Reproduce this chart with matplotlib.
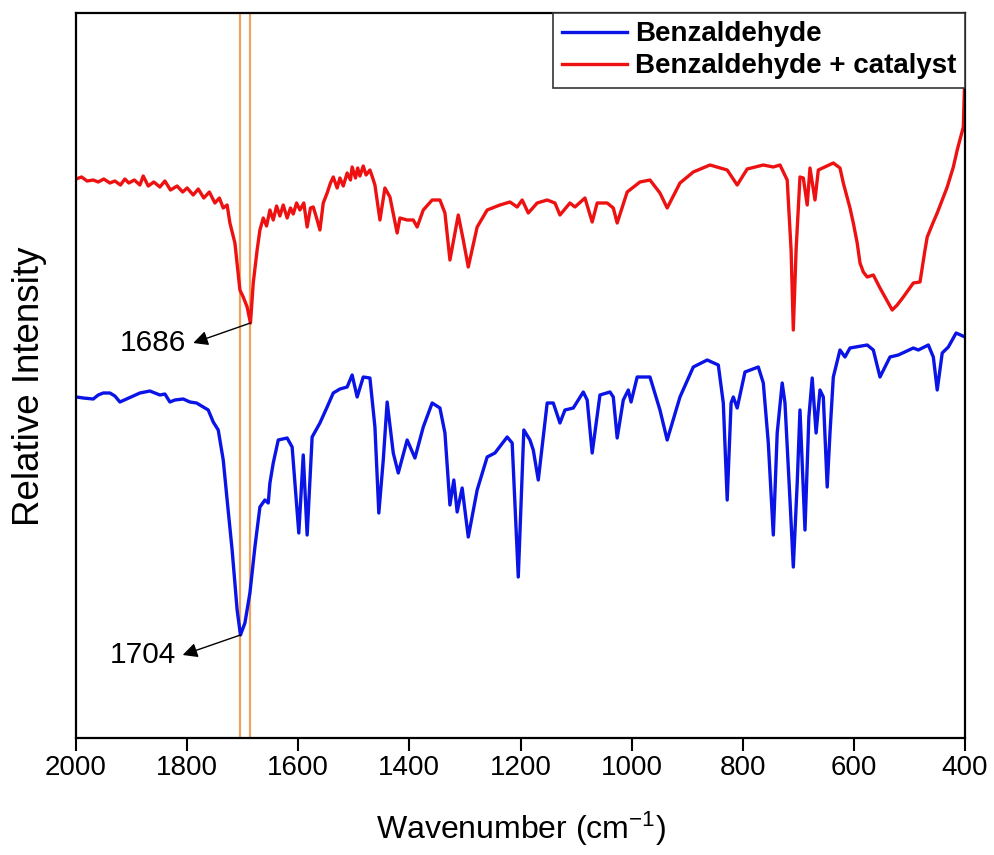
import matplotlib
matplotlib.use("Agg")
import matplotlib.pyplot as plt

# FTIR spectra (arbitrary intensity units, offset for display)
wn_red = [2000, 1990, 1980, 1969, 1960, 1950, 1939, 1930, 1920, 1912, 1905, 1895, 1885,
          1879, 1870, 1860, 1849, 1840, 1830, 1818, 1808, 1800, 1789, 1780, 1770, 1760,
          1750, 1742, 1735, 1728, 1723, 1714, 1705, 1699, 1692, 1686, 1681, 1674, 1669,
          1663, 1657, 1651, 1645, 1639, 1633, 1627, 1620, 1614, 1609, 1603, 1597, 1590,
          1584, 1578, 1573, 1567, 1561, 1555, 1548, 1542, 1537, 1530, 1525, 1519, 1512,
          1506, 1503, 1497, 1493, 1489, 1483, 1478, 1471, 1466, 1462, 1453, 1444, 1435,
          1422, 1417, 1404, 1393, 1386, 1375, 1359, 1345, 1336, 1327, 1312, 1303, 1294,
          1278, 1260, 1237, 1219, 1206, 1197, 1186, 1170, 1152, 1138, 1129, 1111, 1102,
          1084, 1071, 1062, 1044, 1033, 1026, 1008, 985, 967, 949, 936, 913, 889, 859,
          828, 810, 792, 763, 745, 733, 720, 713, 709, 704, 697, 691, 684, 679, 670, 664,
          637, 625, 619, 607, 601, 594, 589, 583, 576, 565, 553, 544, 531, 522, 511, 493,
          481, 472, 468, 457, 450, 432, 421, 414, 403, 401, 400]
int_red = [559, 561, 557, 558, 556, 559, 555, 557, 553, 559, 555, 558, 553,
           562, 552, 556, 551, 557, 548, 552, 546, 550, 543, 549, 540, 546,
           535, 540, 530, 533, 515, 495, 448, 441, 431, 415, 455, 488, 508,
           520, 512, 528, 518, 532, 522, 533, 520, 530, 524, 535, 528, 535,
           511, 530, 531, 520, 508, 535, 545, 555, 561, 550, 560, 552, 565,
           558, 571, 560, 570, 562, 572, 563, 568, 560, 553, 518, 550, 541,
           505, 520, 518, 518, 511, 528, 538, 538, 525, 478, 523, 498, 471,
           511, 528, 533, 536, 531, 538, 525, 535, 538, 535, 523, 535, 531,
           540, 516, 535, 535, 530, 515, 546, 556, 558, 545, 530, 555, 566, 573,
           568, 553, 569, 573, 571, 573, 558, 488, 408, 488, 561, 560, 533, 570, 538, 568,
           575, 570, 555, 530, 515, 495, 475, 466, 461, 463, 450, 441, 428, 433, 441, 455,
           456, 488, 501, 516, 525, 551, 571, 588, 611, 650, 715]

wn_blue = [1999, 1987, 1969, 1960, 1951, 1939, 1930, 1921, 1909, 1897, 1885, 1876, 1867,
           1858, 1849, 1840, 1831, 1822, 1807, 1795, 1783, 1771, 1762, 1753, 1744, 1735,
           1728, 1719, 1710, 1704, 1696, 1687, 1678, 1669, 1660, 1654, 1651, 1645, 1636,
           1620, 1611, 1599, 1591, 1584, 1575, 1561, 1548, 1537, 1525, 1512, 1503, 1494,
           1483, 1471, 1462, 1455, 1447, 1440, 1429, 1420, 1404, 1390, 1375, 1359, 1345,
           1336, 1327, 1320, 1314, 1305, 1294, 1278, 1260, 1246, 1224, 1215, 1204, 1194,
           1183, 1177, 1168, 1152, 1141, 1129, 1120, 1105, 1087, 1080, 1071, 1057, 1039,
           1033, 1026, 1015, 1006, 1001, 990, 967, 949, 936, 913, 889, 864, 844, 835, 828,
           821, 817, 810, 796, 772, 763, 754, 745, 738, 729, 724, 715, 709, 702, 697, 688,
           681, 675, 668, 661, 655, 648, 643, 637, 625, 616, 607, 576, 565, 553, 535, 520,
           493, 484, 466, 457, 450, 441, 430, 416, 400]
int_blue = [341, 340, 339, 343, 345, 345, 342, 336, 339, 342, 345, 346, 347,
            345, 343, 344, 336, 338, 339, 336, 335, 331, 328, 316, 308, 278,
            238, 188, 128, 103, 115, 145, 191, 231, 238, 235, 255, 275, 298,
            300, 291, 205, 283, 203, 301, 315, 331, 345, 349, 351, 363, 341,
            361, 360, 311, 225, 278, 336, 285, 265, 298, 280, 311, 335, 330,
            305, 233, 258, 226, 250, 201, 248, 281, 285, 301, 295, 161, 308,
            298, 288, 258, 335, 335, 315, 328, 330, 346, 338, 285, 343, 346,
            341, 300, 338, 348, 336, 361, 361, 328, 298, 341, 371, 378, 373, 335, 238,
            335, 341, 330, 366, 371, 355, 295, 203, 305, 355, 335, 238, 171, 255, 328, 208,
            321, 360, 305, 348, 341, 251, 305, 361, 388, 381, 390, 393, 388, 361, 381, 383,
            390, 388, 393, 381, 348, 385, 391, 405, 401]

series_labels = ["Benzaldehyde", "Benzaldehyde + catalyst"]
peak_red = 1686
peak_blue = 1704
x_ticks = [2000, 1800, 1600, 1400, 1200, 1000, 800, 600, 400]

plt.rcParams["font.family"] = ["Liberation Sans", "DejaVu Sans"]
plt.rcParams["mathtext.default"] = "regular"

fig = plt.figure(figsize=(9.94, 8.55), dpi=100)
ax = fig.add_axes([76 / 994, (855 - 738) / 855, (965 - 76) / 994, (738 - 13) / 855])

ax.axvline(peak_blue, color="#EFA45E", lw=1.6, zorder=1)
ax.axvline(peak_red, color="#EFA45E", lw=1.6, zorder=1)

ax.plot(wn_blue, int_blue, color="#0A14E6", lw=2.4, label=series_labels[0], zorder=2,
        solid_joinstyle="round")
ax.plot(wn_red, int_red, color="#EE1111", lw=2.4, label=series_labels[1], zorder=2,
        solid_joinstyle="round")

ax.set_xlim(2000, 400)
ax.set_ylim(0, 725)
ax.set_xticks(x_ticks)
ax.set_xticklabels([str(t) for t in x_ticks], fontsize=20)
ax.set_yticks([])
ax.tick_params(axis="x", direction="out", length=9.5, width=1.5, pad=3)
for s in ax.spines.values():
    s.set_linewidth(1.6)

ax.set_xlabel("Wavenumber (cm$^{-1}$)", fontsize=23)
ax.xaxis.set_label_coords(0.5, (738 - 829) / 725)
ax.xaxis.label.set_va("center")
ax.set_ylabel("Relative Intensity", fontsize=26.5)
ax.yaxis.set_label_coords((30 - 76) / 889, (738 - 386) / 725)
ax.yaxis.label.set_va("center")

# peak annotations
red_min = int_red[wn_red.index(peak_red)]
blue_min = int_blue[wn_blue.index(peak_blue)]
arrow = dict(arrowstyle="-|>", color="black", lw=1.0, mutation_scale=22, shrinkA=0, shrinkB=0)
ax.annotate("", xy=(1789, red_min - 20), xytext=(peak_red, red_min), arrowprops=arrow)
ax.text(1861, red_min - 20, str(peak_red), fontsize=21.5, ha="center", va="center")
ax.annotate("", xy=(1808, blue_min - 20), xytext=(peak_blue, blue_min), arrowprops=arrow)
ax.text(1879, blue_min - 20, str(peak_blue), fontsize=21.5, ha="center", va="center")

leg = ax.legend(loc="upper right", borderaxespad=0, fancybox=False, framealpha=1,
                edgecolor="#333333", handlelength=2.35, handletextpad=0.3,
                borderpad=0.3, labelspacing=0.22,
                prop=dict(family="Liberation Sans", weight="bold", size=20))
leg.get_frame().set_linewidth(1.2)

fig.savefig("out.png", dpi=100)
